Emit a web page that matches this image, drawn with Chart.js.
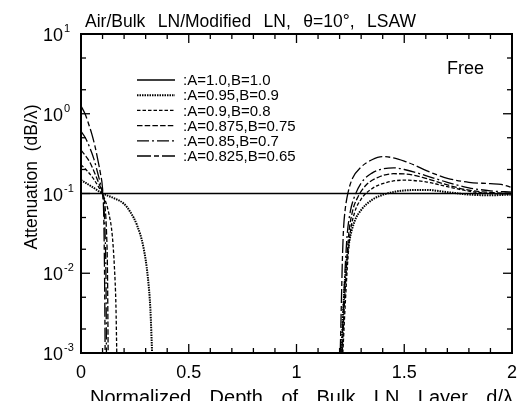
<!DOCTYPE html>
<html>
<head>
<meta charset="utf-8">
<script src="https://cdn.jsdelivr.net/npm/chart.js@4"></script>
<style>html,body{margin:0;padding:0;background:#fff}</style>
</head>
<body>
<canvas id="c" width="531" height="401"></canvas>
<script>
// ─── Data ───────────────────────────────────────────────────────────────────
const seriesLabels = [':A=1.0,B=1.0', ':A=0.95,B=0.9', ':A=0.9,B=0.8', ':A=0.875,B=0.75', ':A=0.85,B=0.7', ':A=0.825,B=0.65'];

// A=1.0,B=1.0 : layer identical to substrate -> flat
const d100   = [0, 2];
const att100 = [0.1, 0.1];

// each curve: left branch, gap (null), right branch
const d095   = [0, 0.05, 0.1, 0.15, 0.2, 0.23, 0.26, 0.29, 0.31, 0.322, 0.33, 0.7, 1.208, 1.218, 1.23, 1.245, 1.27, 1.3, 1.35, 1.42, 1.5, 1.6, 1.7, 1.8, 1.9, 2.0];
const att095 = [0.147, 0.122, 0.1, 0.088, 0.074, 0.058, 0.04, 0.021, 0.009, 0.0035, 0.001, null, 0.001, 0.004, 0.012, 0.025, 0.045, 0.062, 0.083, 0.1, 0.109, 0.111, 0.104, 0.097, 0.095, 0.097];

const d090   = [0, 0.03, 0.06, 0.09, 0.11, 0.13, 0.145, 0.155, 0.162, 0.166, 0.7, 1.215, 1.226, 1.236, 1.248, 1.27, 1.3, 1.35, 1.42, 1.5, 1.6, 1.7, 1.8, 1.9, 2.0];
const att090 = [0.23, 0.19, 0.15, 0.11, 0.085, 0.055, 0.03, 0.012, 0.004, 0.001, null, 0.001, 0.004, 0.012, 0.03, 0.058, 0.085, 0.115, 0.138, 0.147, 0.14, 0.122, 0.107, 0.1, 0.099];

const d0875   = [0, 0.02, 0.04, 0.06, 0.08, 0.1, 0.11, 0.118, 0.123, 0.126, 0.7, 1.212, 1.222, 1.232, 1.242, 1.26, 1.28, 1.32, 1.38, 1.45, 1.5, 1.6, 1.7, 1.8, 1.9, 2.0];
const att0875 = [0.35, 0.3, 0.25, 0.19, 0.14, 0.1, 0.075, 0.035, 0.01, 0.001, null, 0.001, 0.004, 0.012, 0.03, 0.06, 0.085, 0.125, 0.16, 0.177, 0.176, 0.155, 0.128, 0.11, 0.103, 0.1];

const d085   = [0, 0.02, 0.04, 0.06, 0.08, 0.095, 0.105, 0.112, 0.116, 0.118, 0.7, 1.21, 1.218, 1.226, 1.235, 1.25, 1.265, 1.3, 1.35, 1.4, 1.45, 1.5, 1.6, 1.7, 1.8, 1.9, 2.0];
const att085 = [0.6, 0.5, 0.38, 0.27, 0.17, 0.115, 0.075, 0.03, 0.008, 0.001, null, 0.001, 0.004, 0.012, 0.03, 0.06, 0.085, 0.135, 0.18, 0.203, 0.21, 0.2, 0.168, 0.138, 0.118, 0.108, 0.104];

const d0825   = [0, 0.02, 0.035, 0.05, 0.065, 0.08, 0.09, 0.1, 0.105, 0.108, 0.11, 0.112, 0.7, 1.203, 1.208, 1.213, 1.218, 1.225, 1.24, 1.26, 1.3, 1.35, 1.4, 1.45, 1.5, 1.55, 1.6, 1.65, 1.7, 1.8, 1.9, 1.95, 2.0];
const att0825 = [1.25, 0.98, 0.75, 0.56, 0.39, 0.25, 0.18, 0.115, 0.06, 0.02, 0.006, 0.001, null, 0.001, 0.004, 0.015, 0.035, 0.06, 0.105, 0.155, 0.215, 0.265, 0.29, 0.28, 0.255, 0.225, 0.195, 0.172, 0.155, 0.138, 0.133, 0.13, 0.119];

const xMajor = [0, 0.5, 1, 1.5, 2];
const xMajorLabels = ['0', '0.5', '1', '1.5', '2'];
const yExponents = [-3, -2, -1, 0, 1];

const titleWords  = ['Air/Bulk', 'LN/Modified', 'LN,', '\u03b8=10\u00b0,', 'LSAW'];
const xTitleWords = ['Normalized', 'Depth', 'of', 'Bulk', 'LN', 'Layer', 'd/\u03bb'];

// ─── Styles ─────────────────────────────────────────────────────────────────
const dashes = [[], [1.5, 1], [3.5, 2], [5.5, 2.2], [12, 3, 2, 3], [14, 3, 5, 3]];
const widths = [1.3, 2, 1.3, 1.3, 1.3, 1.3];
const FONT = '"Liberation Sans", Arial, Helvetica, sans-serif';

const pts = (xs, ys) => xs.map((v, i) => ({ x: v, y: ys[i] }));
const allSeries = [[d100, att100], [d095, att095], [d090, att090], [d0875, att0875], [d085, att085], [d0825, att0825]];

const datasets = allSeries.map(([xs, ys], i) => ({
  label: seriesLabels[i],
  data: pts(xs, ys),
  borderColor: '#000',
  borderWidth: widths[i],
  borderDash: dashes[i],
  pointRadius: 0,
  fill: false,
  spanGaps: false,
  cubicInterpolationMode: 'monotone',
}));

function seg(ctx, x1, y1, x2, y2) {
  ctx.beginPath(); ctx.moveTo(x1, y1); ctx.lineTo(x2, y2); ctx.stroke();
}

// words spread evenly between x0 and x1 (the original uses wide word gaps)
function spread(ctx, words, x0, x1, y) {
  const ws = words.map(w => ctx.measureText(w).width);
  const gap = (x1 - x0 - ws.reduce((s, w) => s + w, 0)) / (words.length - 1);
  let cx = x0;
  ctx.textAlign = 'left';
  words.forEach((w, i) => { ctx.fillText(w, cx, y); cx += ws[i] + gap; });
}

// frame, inward ticks, labels, legend – all drawn after the curves
const decor = {
  id: 'decor',
  afterDraw(chart) {
    const { ctx, chartArea: a, scales: { x, y } } = chart;
    ctx.save();
    ctx.strokeStyle = '#000'; ctx.fillStyle = '#000';
    ctx.setLineDash([]);
    ctx.lineWidth = 2;
    ctx.strokeRect(a.left, a.top, a.right - a.left, a.bottom - a.top);

    ctx.lineWidth = 1.3;
    for (let i = 0; i <= 20; i++) {
      const px = x.getPixelForValue(i / 10);
      const len = i % 5 === 0 ? 9 : 5;
      seg(ctx, px, a.bottom, px, a.bottom - len);
      seg(ctx, px, a.top, px, a.top + len);
    }
    yExponents.forEach(e => {
      const py = y.getPixelForValue(Math.pow(10, e));
      seg(ctx, a.left, py, a.left + 9, py);
      seg(ctx, a.right, py, a.right - 9, py);
      if (e < 1) [2, 5].forEach(m => {
        const pm = y.getPixelForValue(m * Math.pow(10, e));
        seg(ctx, a.left, pm, a.left + 5, pm);
        seg(ctx, a.right, pm, a.right - 5, pm);
      });
    });

    // x tick labels
    ctx.font = `18px ${FONT}`;
    ctx.textAlign = 'center'; ctx.textBaseline = 'alphabetic';
    xMajor.forEach((v, i) => ctx.fillText(xMajorLabels[i], x.getPixelForValue(v), a.bottom + 25));

    // y tick labels: 10^e
    yExponents.forEach(e => {
      const py = y.getPixelForValue(Math.pow(10, e));
      ctx.font = `18px ${FONT}`;
      ctx.textAlign = 'right';
      ctx.fillText('10', 63, py + 7);
      ctx.font = `11px ${FONT}`;
      ctx.textAlign = 'left';
      ctx.fillText(String(e), 64, py - 2);
    });

    // axis titles
    ctx.font = `20px ${FONT}`;
    spread(ctx, xTitleWords, 90, 513, 404);
    ctx.save();
    ctx.translate(37, 177);
    ctx.rotate(-Math.PI / 2);
    ctx.font = `17.5px ${FONT}`;
    ctx.textAlign = 'center';
    ctx.fillText('Attenuation  (dB/\u03bb)', 0, 0);
    ctx.restore();

    // title + annotation
    ctx.font = `17.5px ${FONT}`;
    spread(ctx, titleWords, 85, 416, 27);
    ctx.font = `18px ${FONT}`;
    ctx.textAlign = 'left';
    ctx.fillText('Free', 447, 74);

    // legend
    ctx.font = `15px ${FONT}`;
    seriesLabels.forEach((lab, i) => {
      const ly = 80 + i * 15.2;
      ctx.lineWidth = widths[i];
      ctx.setLineDash(dashes[i]);
      seg(ctx, 137, ly, 175, ly);
      ctx.setLineDash([]);
      ctx.textBaseline = 'middle';
      ctx.fillText(lab, 183, ly + 1);
    });
    ctx.restore();
  }
};

new Chart(document.getElementById('c'), {
  type: 'line',
  data: { datasets },
  options: {
    responsive: false,
    animation: false,
    layout: { padding: { left: 81, top: 34, right: 19, bottom: 48 } },
    plugins: { legend: { display: false }, tooltip: { enabled: false }, title: { display: false } },
    scales: {
      x: { type: 'linear', min: 0, max: 2, display: false },
      y: { type: 'logarithmic', min: 0.001, max: 10, display: false },
    },
  },
  plugins: [decor],
});
</script>
</body>
</html>
